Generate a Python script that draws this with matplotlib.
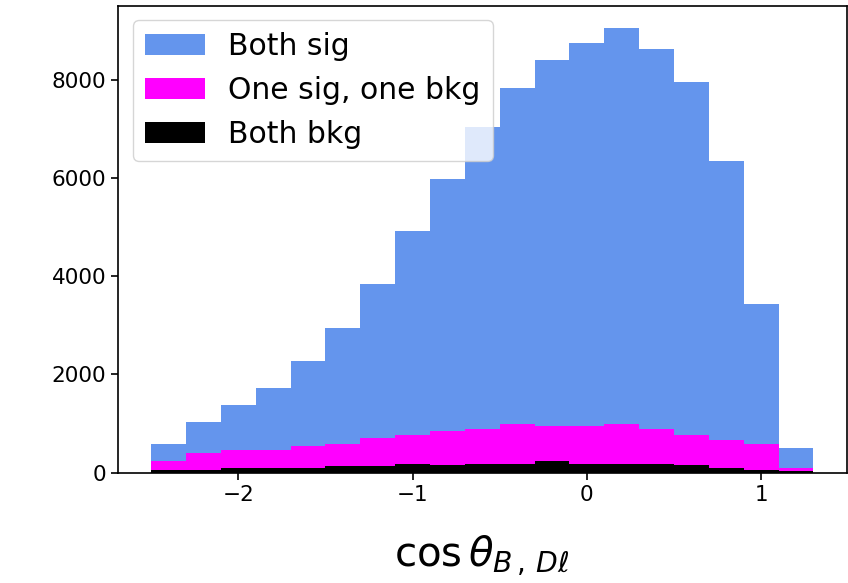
import numpy as np
import matplotlib
matplotlib.use("Agg")
import matplotlib.pyplot as plt
from matplotlib.ticker import MultipleLocator

# bin edges of cos(theta_B,Dl), width 0.2
bin_edges = np.round(np.arange(-2.5, 1.31, 0.2), 2)

# counts per bin (each category on its own)
both_bkg = [65, 65, 105, 105, 105, 140, 140, 185, 165, 185,
            185, 235, 185, 185, 180, 165, 105, 65, 30]
one_sig_one_bkg = [170, 345, 350, 350, 440, 450, 575, 575, 685, 710,
                   800, 710, 760, 800, 715, 595, 570, 525, 65]
both_sig = [350, 615, 920, 1270, 1720, 2360, 3115, 4165, 5130, 6130,
            6840, 7450, 7800, 8070, 7720, 7200, 5660, 2850, 400]

labels = ["Both bkg", "One sig, one bkg", "Both sig"]
colors = ["black", "magenta", "cornflowerblue"]

centers = 0.5 * (bin_edges[:-1] + bin_edges[1:])

fig = plt.figure(figsize=(8.48, 5.83), dpi=100)
ax = fig.add_axes([118 / 848, 1 - 472.7 / 583, (846.5 - 118) / 848, (472.7 - 5.5) / 583])

ax.hist([centers, centers, centers], bins=bin_edges,
        weights=[both_bkg, one_sig_one_bkg, both_sig],
        stacked=True, color=colors, label=labels)

for side in ax.spines.values():
    side.set_linewidth(1.2)
ax.xaxis.set_major_locator(MultipleLocator(1))
ax.tick_params(labelsize=15.5, length=5, width=1.2)
ax.set_xlabel(r"$\cos\theta_{B\,,\,D\ell}$", fontsize=29, labelpad=21)

handles, labs = ax.get_legend_handles_labels()
ax.legend(handles[::-1], labs[::-1], loc="upper left", fontsize=21.5)

plt.savefig("out.png", dpi=100)
